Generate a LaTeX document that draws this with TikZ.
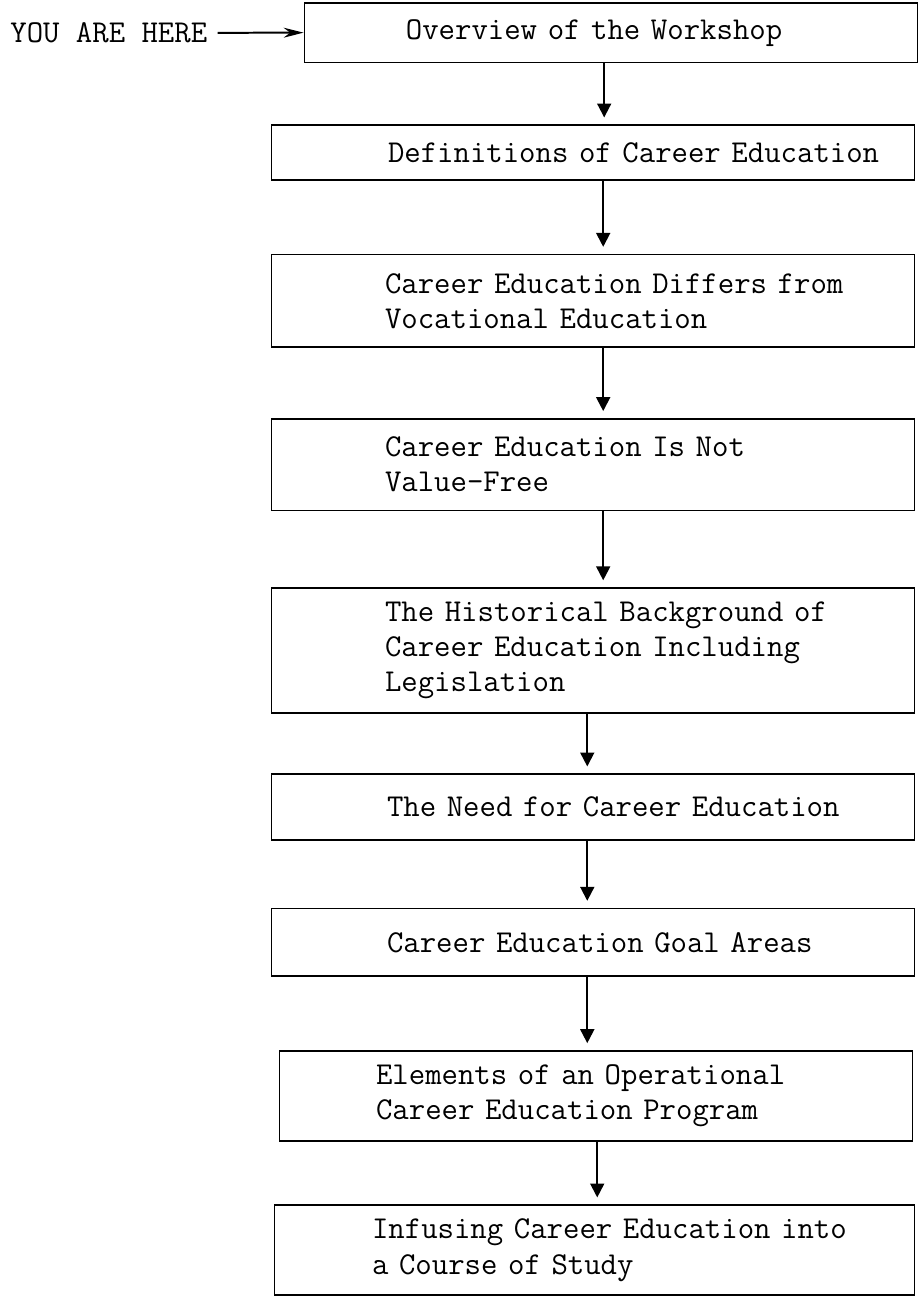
\documentclass[tikz,border=0pt]{standalone}
\usetikzlibrary{arrows.meta}
\tikzset{
  stagebox/.style={draw, line width=0.8pt, anchor=north west, inner xsep=6pt, inner ysep=7pt,
    text width=311pt, align=left, font=\ttfamily\fontsize{16}{17.6}\selectfont,
    execute at begin node={\leftskip=#1}},
  stagebox/.default=51pt,
  flowarrow/.style={line width=1pt, -{Triangle[length=7pt, width=7pt]}, shorten >=3.5pt},
  herelabel/.style={font=\ttfamily\fontsize{16}{17.6}\selectfont, inner sep=0pt, anchor=west},
  herearrow/.style={line width=1pt, -{Stealth[length=10pt, width=5pt]}, shorten <=5pt}
}

\begin{document}
\begin{tikzpicture}[x=0.5pt, y=-0.5pt]

% Page
\fill[white] (0,0) rectangle (923,1296);

% Stages of the workshop
\node[stagebox=45pt, text width=296pt, minimum height=30pt] (overview) at (305,2)
  {Overview of the Workshop};
\node[stagebox=52.5pt, minimum height=27.5pt] (definitions) at (272,125)
  {Definitions of Career Education};
\node[stagebox, minimum height=46.5pt] (differs) at (272,255)
  {Career Education Differs from\\Vocational Education};
\node[stagebox, minimum height=46pt] (valuefree) at (272,420)
  {Career Education Is Not\\Value-Free};
\node[stagebox, minimum height=62.5pt] (history) at (272,590)
  {The Historical Background of\\Career Education Including\\Legislation};
\node[stagebox=52pt, minimum height=33pt] (need) at (272,777)
  {The Need for Career Education};
\node[stagebox=52pt, minimum height=34pt] (goals) at (272,912)
  {Career Education Goal Areas};
\node[stagebox=42.5pt, text width=306pt, minimum height=44pt] (elements) at (280,1055)
  {Elements of an Operational\\Career Education Program};
\node[stagebox=43pt, text width=309.5pt, minimum height=40pt] (infusing) at (275,1210)
  {Infusing Career Education into\\a Course of Study};

% Flow between stages
\foreach \a/\b/\x in {overview/definitions/607, definitions/differs/606, differs/valuefree/606,
    valuefree/history/606, history/need/590, need/goals/590, goals/elements/590, elements/infusing/600} {
  \draw[flowarrow] (\a.south -| \x,0) -- (\b.north -| \x,0);
}

% Pointer
\node[herelabel] (here) at (10,33) {YOU ARE HERE};
\draw[herearrow] (here.east) -- (overview.west);

\end{tikzpicture}
\end{document}
